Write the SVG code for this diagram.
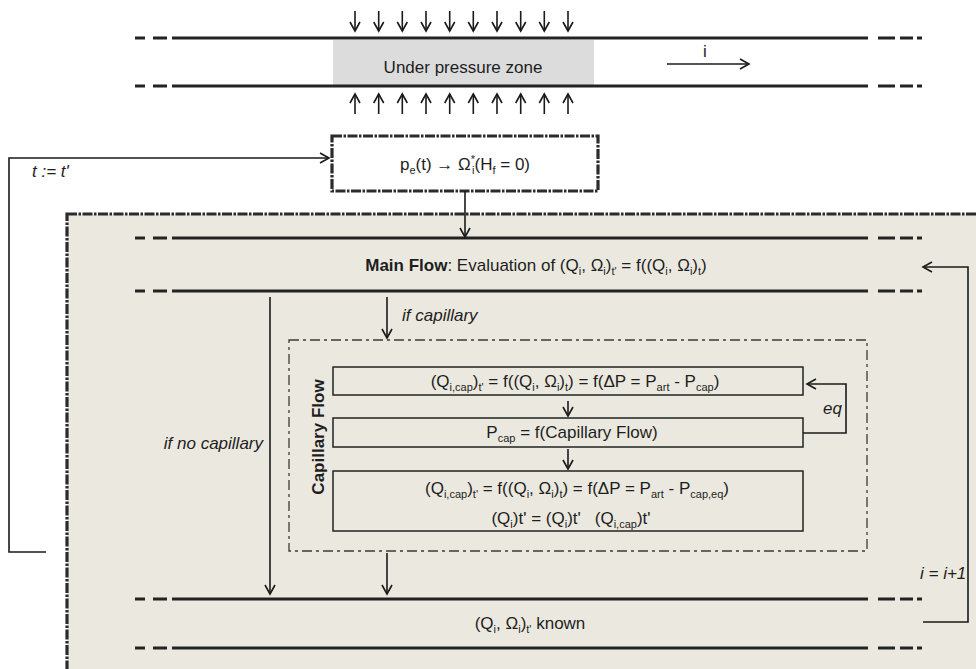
<svg xmlns="http://www.w3.org/2000/svg" width="976" height="669" viewBox="0 0 976 669">
<defs>
<marker id="ah" markerUnits="userSpaceOnUse" markerWidth="14" markerHeight="14" viewBox="0 0 14 14" refX="12" refY="7" orient="auto">
<path d="M3,2 L12,7 L3,12" fill="none" stroke="#1a1a1a" stroke-width="1.6"/>
</marker>
<style>
.t{font-family:"Liberation Sans",Arial,sans-serif;font-size:17px;fill:#1e1e1e}
.it{font-style:italic}
.sb{font-size:11px}
.pipe{stroke:#232323;stroke-width:3;fill:none}
.con{stroke:#1a1a1a;stroke-width:1.6;fill:none}
.arr{marker-end:url(#ah)}
.thick{stroke:#2b2b2b;stroke-width:3.2;stroke-dasharray:10 1.5 2.5 1.5}
.inner{fill:none;stroke:#222;stroke-width:1.5}
</style>
</defs>
<rect width="976" height="669" fill="#fff"/>

<g id="pipe-top">
<rect x="333" y="40" width="261" height="45" fill="#dcdcdc"/>
<path class="pipe" d="M135,38H145M153,38H167M172,38H868M878,38H895M900,38H913M917,38H922M135,86H145M153,86H167M172,86H868M878,86H895M900,86H913M917,86H922"/>
<text class="t" x="463" y="73" text-anchor="middle">Under pressure zone</text>
<text class="t" x="705" y="57" text-anchor="middle">i</text>
</g>

<g id="panel">
<rect x="67" y="214" width="1000" height="600" fill="#ebe9df" class="thick"/>
</g>

<g id="node-pe">
<rect x="332" y="136" width="266" height="55" fill="#fff" class="thick"/>
<text class="t" x="465" y="170" text-anchor="middle">p<tspan class="sb" dy="4">e</tspan><tspan dy="-4">(t) → Ω</tspan><tspan class="sb" dy="-7">*</tspan><tspan class="sb" dx="-3" dy="11">i</tspan><tspan dy="-4">(H</tspan><tspan class="sb" dy="4">f</tspan><tspan dy="-4"> = 0)</tspan></text>
</g>

<g id="node-mainflow">
<path class="pipe" d="M135,238H145M153,238H167M172,238H868M878,238H895M900,238H913M917,238H922M135,291H145M153,291H167M172,291H868M878,291H895M900,291H913M917,291H922"/>
<text class="t" x="536" y="271" text-anchor="middle"><tspan font-weight="bold">Main Flow</tspan>: Evaluation of (Q<tspan class="sb" dy="4">i</tspan><tspan dy="-4">, Ω</tspan><tspan class="sb" dy="4">i</tspan><tspan dy="-4">)</tspan><tspan class="sb" dy="4">t'</tspan><tspan dy="-4"> = f((Q</tspan><tspan class="sb" dy="4">i</tspan><tspan dy="-4">, Ω</tspan><tspan class="sb" dy="4">i</tspan><tspan dy="-4">)</tspan><tspan class="sb" dy="4">t</tspan><tspan dy="-4">)</tspan></text>
</g>

<g id="capillary-group">
<rect x="289" y="340" width="578" height="211" fill="none" stroke="#3a3a3a" stroke-width="1.3" stroke-dasharray="10 4 3 4"/>
<text class="t" font-weight="bold" transform="translate(324,437) rotate(-90)" text-anchor="middle">Capillary Flow</text>
</g>

<g id="node-cap1">
<rect class="inner" x="333" y="367" width="470" height="28"/>
<text class="t" x="575" y="387" text-anchor="middle">(Q<tspan class="sb" dy="4">i,cap</tspan><tspan dy="-4">)</tspan><tspan class="sb" dy="4">t'</tspan><tspan dy="-4"> = f((Q</tspan><tspan class="sb" dy="4">i</tspan><tspan dy="-4">, Ω</tspan><tspan class="sb" dy="4">i</tspan><tspan dy="-4">)</tspan><tspan class="sb" dy="4">t</tspan><tspan dy="-4">) = f(ΔP = P</tspan><tspan class="sb" dy="4">art</tspan><tspan dy="-4"> - P</tspan><tspan class="sb" dy="4">cap</tspan><tspan dy="-4">)</tspan></text>
</g>

<g id="node-cap2">
<rect class="inner" x="333" y="418" width="470" height="29"/>
<text class="t" x="572" y="438" text-anchor="middle">P<tspan class="sb" dy="4">cap</tspan><tspan dy="-4"> = f(Capillary Flow)</tspan></text>
</g>

<g id="node-cap3">
<rect class="inner" x="333" y="471" width="470" height="60"/>
<text class="t" x="577" y="494" text-anchor="middle">(Q<tspan class="sb" dy="4">i,cap</tspan><tspan dy="-4">)</tspan><tspan class="sb" dy="4">t'</tspan><tspan dy="-4"> = f((Q</tspan><tspan class="sb" dy="4">i</tspan><tspan dy="-4">, Ω</tspan><tspan class="sb" dy="4">i</tspan><tspan dy="-4">)</tspan><tspan class="sb" dy="4">t</tspan><tspan dy="-4">) = f(ΔP = P</tspan><tspan class="sb" dy="4">art</tspan><tspan dy="-4"> - P</tspan><tspan class="sb" dy="4">cap,eq</tspan><tspan dy="-4">)</tspan></text>
<text class="t" x="571" y="524" text-anchor="middle">(Q<tspan class="sb" dy="4">i</tspan><tspan dy="-4">)t' = (Q</tspan><tspan class="sb" dy="4">i</tspan><tspan dy="-4">)t'</tspan><tspan dx="14">(Q</tspan><tspan class="sb" dy="4">i,cap</tspan><tspan dy="-4">)t'</tspan></text>
</g>

<g id="node-known">
<path class="pipe" d="M135,599H145M153,599H167M172,599H868M878,599H895M900,599H913M917,599H922M135,648H145M153,648H167M172,648H868M878,648H895M900,648H913M917,648H922"/>
<text class="t" x="530" y="629" text-anchor="middle">(Q<tspan class="sb" dy="4">i</tspan><tspan dy="-4">, Ω</tspan><tspan class="sb" dy="4">i</tspan><tspan dy="-4">)</tspan><tspan class="sb" dy="4">t'</tspan><tspan dy="-4"> known</tspan></text>
</g>

<g id="connectors">
<path class="con arr" d="M355,11V31"/>
<path class="con arr" d="M378.7,11V31"/>
<path class="con arr" d="M402.3,11V31"/>
<path class="con arr" d="M426,11V31"/>
<path class="con arr" d="M449.7,11V31"/>
<path class="con arr" d="M473.3,11V31"/>
<path class="con arr" d="M497,11V31"/>
<path class="con arr" d="M520.7,11V31"/>
<path class="con arr" d="M544.3,11V31"/>
<path class="con arr" d="M568,11V31"/>
<path class="con arr" d="M355,114V94"/>
<path class="con arr" d="M378.7,114V94"/>
<path class="con arr" d="M402.3,114V94"/>
<path class="con arr" d="M426,114V94"/>
<path class="con arr" d="M449.7,114V94"/>
<path class="con arr" d="M473.3,114V94"/>
<path class="con arr" d="M497,114V94"/>
<path class="con arr" d="M520.7,114V94"/>
<path class="con arr" d="M544.3,114V94"/>
<path class="con arr" d="M568,114V94"/>
<path class="con arr" d="M667,64H749"/>
<path class="con arr" d="M46,552H9V158H329"/>
<path class="con arr" d="M465,191V237"/>
<path class="con arr" d="M923,622H968V267H923"/>
<path class="con arr" d="M387,297V338"/>
<path class="con arr" d="M270,297V594"/>
<path class="con arr" d="M387,553V594"/>
<path class="con arr" d="M568,401V416"/>
<path class="con arr" d="M568,449V469"/>
<path class="con arr" d="M803,433H846V384H807"/>
<text class="t it" x="32" y="177">t := t'</text>
<text class="t it" x="402" y="321">if capillary</text>
<text class="t it" x="263" y="449" text-anchor="end">if no capillary</text>
<text class="t it" x="823" y="414">eq</text>
<text class="t it" x="920" y="579">i = i+1</text>
</g>
</svg>
